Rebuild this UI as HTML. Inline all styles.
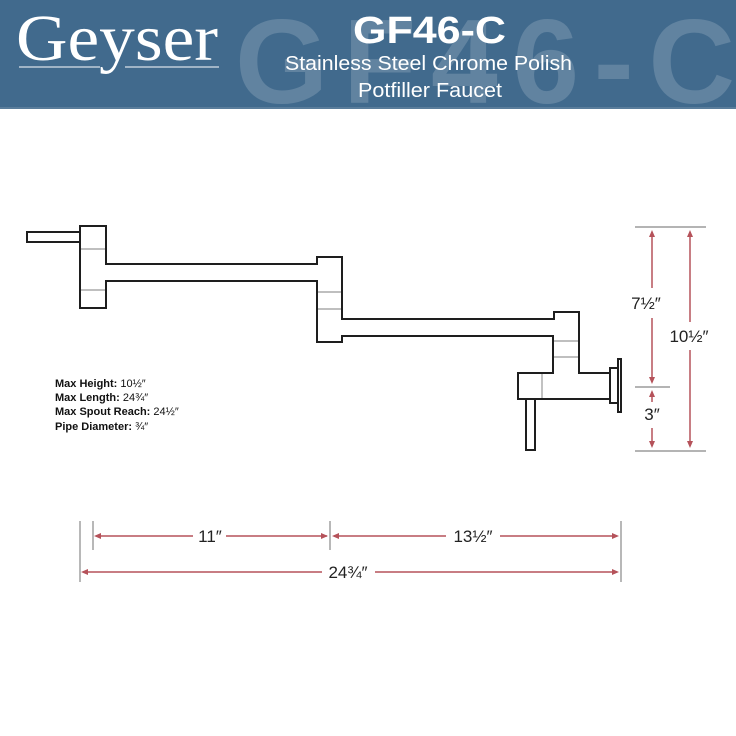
<!DOCTYPE html>
<html><head><meta charset="utf-8"><style>
html,body{margin:0;padding:0;background:#fff;}
svg{display:block}
</style></head><body>
<svg width="736" height="736" viewBox="0 0 736 736" xmlns="http://www.w3.org/2000/svg">
<rect x="0" y="0" width="736" height="109" fill="#416a8d"/>
<rect x="0" y="107" width="736" height="2" fill="#5a7d9b"/>
<text x="235" y="103" font-family="Liberation Sans, sans-serif" font-weight="bold" font-size="120" fill="#ffffff" fill-opacity="0.17" textLength="500" lengthAdjust="spacing">GF46-C</text>
<text x="16" y="60" font-family="Liberation Serif, serif" font-size="66" fill="#fff" textLength="202" lengthAdjust="spacingAndGlyphs">Geyser</text>
<line x1="19" y1="67" x2="100" y2="67" stroke="#fff" stroke-width="1"/>
<line x1="125" y1="67" x2="219" y2="67" stroke="#fff" stroke-width="1"/>
<text x="353" y="43" font-family="Liberation Sans, sans-serif" font-weight="bold" font-size="38" fill="#fff" textLength="153" lengthAdjust="spacingAndGlyphs">GF46-C</text>
<text x="285" y="70" font-family="Liberation Sans, sans-serif" font-size="20" fill="#fff" textLength="287" lengthAdjust="spacingAndGlyphs">Stainless Steel Chrome Polish</text>
<text x="358" y="97" font-family="Liberation Sans, sans-serif" font-size="20" fill="#fff" textLength="144" lengthAdjust="spacingAndGlyphs">Potfiller Faucet</text>

<g fill="none" stroke="#1e1e1e" stroke-width="2" stroke-linejoin="miter">
<rect x="27" y="232" width="53" height="10"/>
<path d="M80 226 H106 V264 H317 V257 H342 V319 H554 V312 H579 V373 H610 V399 H518 V373 H553 V336 H342 V342 H317 V281 H106 V308 H80 Z"/>
<rect x="610" y="368" width="8" height="35" fill="#fff"/>
<rect x="618" y="359" width="3" height="53" fill="#fff"/>
<rect x="526" y="399" width="9" height="51"/>
</g>
<g stroke="#999" stroke-width="1.2">
<line x1="81" y1="249" x2="105" y2="249"/><line x1="81" y1="290" x2="105" y2="290"/>
<line x1="318" y1="292" x2="341" y2="292"/><line x1="318" y1="309" x2="341" y2="309"/>
<line x1="554" y1="341" x2="578" y2="341"/><line x1="554" y1="357" x2="578" y2="357"/>
<line x1="542" y1="374" x2="542" y2="398"/>
</g>

<g stroke="#888" stroke-width="1.2">
<line x1="635" y1="227" x2="706" y2="227"/>
<line x1="635" y1="387" x2="670" y2="387"/>
<line x1="635" y1="451" x2="706" y2="451"/>
<line x1="80" y1="521" x2="80" y2="582"/>
<line x1="93" y1="521" x2="93" y2="550"/>
<line x1="330" y1="521" x2="330" y2="550"/>
<line x1="621" y1="521" x2="621" y2="582"/>
</g>
<g stroke="#b5525a" stroke-width="1.5" fill="#b5525a">
<line x1="652" y1="232" x2="652" y2="288"/><line x1="652" y1="318" x2="652" y2="382"/>
<path d="M652 230 l-3 7 h6z M652 384 l-3 -7 h6z" stroke="none"/>
<line x1="652" y1="392" x2="652" y2="402"/><line x1="652" y1="428" x2="652" y2="446"/>
<path d="M652 390 l-3 7 h6z M652 448 l-3 -7 h6z" stroke="none"/>
<line x1="690" y1="232" x2="690" y2="322"/><line x1="690" y1="350" x2="690" y2="446"/>
<path d="M690 230 l-3 7 h6z M690 448 l-3 -7 h6z" stroke="none"/>
<line x1="96" y1="536" x2="193" y2="536"/><line x1="226" y1="536" x2="327" y2="536"/>
<path d="M94 536 l7 -3 v6z M328 536 l-7 -3 v6z" stroke="none"/>
<line x1="334" y1="536" x2="446" y2="536"/><line x1="500" y1="536" x2="617" y2="536"/>
<path d="M332 536 l7 -3 v6z M619 536 l-7 -3 v6z" stroke="none"/>
<line x1="83" y1="572" x2="322" y2="572"/><line x1="375" y1="572" x2="617" y2="572"/>
<path d="M81 572 l7 -3 v6z M619 572 l-7 -3 v6z" stroke="none"/>
</g>
<g font-family="Liberation Sans, sans-serif" font-size="17" fill="#222">
<text x="646" y="309" text-anchor="middle">7½″</text>
<text x="689" y="342" text-anchor="middle">10½″</text>
<text x="652" y="420" text-anchor="middle">3″</text>
<text x="210" y="542" text-anchor="middle">11″</text>
<text x="473" y="542" text-anchor="middle">13½″</text>
<text x="348" y="578" text-anchor="middle">24¾″</text>
</g>
<g font-family="Liberation Sans, sans-serif" font-size="11" fill="#111">
<text x="55" y="387"><tspan font-weight="bold">Max Height:</tspan> 10½″</text>
<text x="55" y="401"><tspan font-weight="bold">Max Length:</tspan> 24¾″</text>
<text x="55" y="415"><tspan font-weight="bold">Max Spout Reach:</tspan> 24½″</text>
<text x="55" y="430"><tspan font-weight="bold">Pipe Diameter:</tspan> ¾″</text>
</g>
</svg>
</body></html>
